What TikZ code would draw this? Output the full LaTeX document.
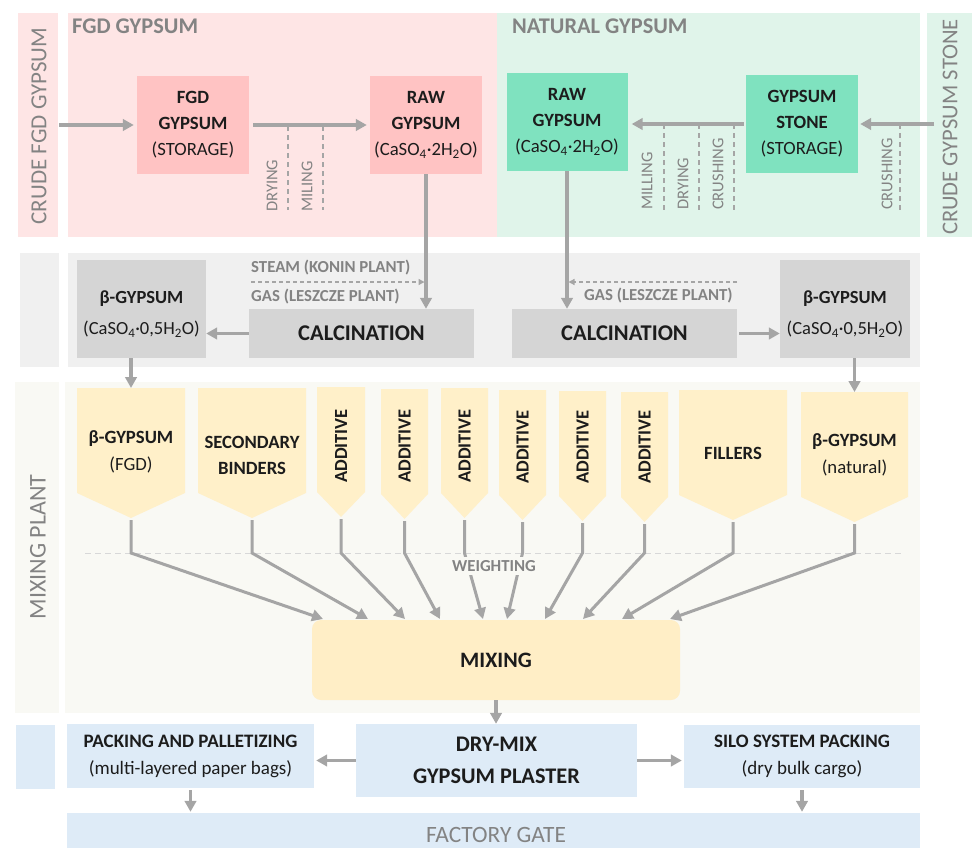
\documentclass[tikz,border=0pt]{standalone}
\usepackage{fontspec}
\setmainfont{Carlito}
\usetikzlibrary{arrows.meta}
\definecolor{pinkbg}{HTML}{FEE5E5}
\definecolor{pinkbox}{HTML}{FFC3C3}
\definecolor{greenbg}{HTML}{E0F4EA}
\definecolor{greenbox}{HTML}{7FE2BF}
\definecolor{graybg}{HTML}{F0F0F0}
\definecolor{graybox}{HTML}{D5D5D5}
\definecolor{mixbg}{HTML}{F9F9F4}
\definecolor{hopcol}{HTML}{FFF0C9}
\definecolor{mixcol}{HTML}{FFEEC6}
\definecolor{bluebox}{HTML}{DEEBF7}
\definecolor{linegray}{HTML}{A5A5A5}
\definecolor{labgray}{HTML}{838383}
\definecolor{darktxt}{HTML}{1C1C1C}
\definecolor{dashgray}{HTML}{D8D8D8}
\newcommand\fs[2]{\fontsize{#1}{#2}\selectfont}
\newcommand\hopper[4]{%
  \fill[hopcol] (#2,#4) -- (#3,#4) -- (#3,#4+105) -- ({(#2+#3)/2},#4+130) -- (#2,#4+105) -- cycle;
  \coordinate (#1top) at ({(#2+#3)/2},#4);
  \coordinate (#1tip) at ({(#2+#3)/2},#4+132);
  \coordinate (#1kink) at ({(#2+#3)/2},553);
}
\begin{document}
\begin{tikzpicture}[x=1pt,y=-1pt,
  flow/.style={draw=linegray, line width=3.3pt, -{Triangle[length=11pt,width=11.5pt]}},
  thinflow/.style={draw=linegray, line width=1.3pt, dash pattern=on 4pt off 3pt, -{Triangle[length=6pt,width=6pt]}},
  opdash/.style={draw=linegray, line width=1.2pt, dash pattern=on 5pt off 4pt},
  procbox/.style={inner sep=0pt, align=center, text=darktxt, font=\fs{18.7}{26}},
  seclabel/.style={rotate=90, text=labgray, font=\fs{23}{25}, inner sep=0pt},
  sectitle/.style={anchor=west, text=labgray, font=\bfseries\fs{22.4}{24}, inner sep=0pt},
  oplabel/.style={rotate=90, anchor=west, text=labgray, font=\fs{16.5}{18}, inner sep=0pt},
  gaslabel/.style={anchor=west, text=labgray, font=\bfseries\fs{16.8}{18}, inner sep=0pt},
  hoptext/.style={align=center, text=darktxt, inner sep=0pt, font=\fs{18.7}{27}},
  addtext/.style={rotate=90, text=darktxt, inner sep=0pt, font=\bfseries\fs{18.5}{20}},
]
\useasboundingbox (0,0) rectangle (973,848);

% ---------- backgrounds ----------
\fill[pinkbg] (18,13) rectangle (58,237);
\fill[pinkbg] (68,13) rectangle (497,237);
\fill[greenbg] (497,13) rectangle (920,237);
\fill[greenbg] (927,13) rectangle (972,237);
\fill[graybg] (20,253) rectangle (59,367);
\fill[graybg] (68,253) rectangle (920,367);
\fill[mixbg] (15,382) rectangle (59,713);
\fill[mixbg] (65,382) rectangle (920,713);
\fill[bluebox] (16,725) rectangle (55,789);

% ---------- section labels ----------
\node[seclabel] (crudefgd) at (39,126) {CRUDE FGD GYPSUM};
\node[seclabel, font=\fs{22.6}{25}] (crudestone) at (950,127) {CRUDE GYPSUM STONE};
\node[seclabel, font=\fs{24}{26}] (mixplant) at (38,547) {MIXING PLANT};
\node[sectitle] (fgdtitle) at (72,26) {FGD GYPSUM};
\node[sectitle] (nattitle) at (512,26) {NATURAL GYPSUM};

% ---------- top boxes ----------
\node[procbox, fill=pinkbox, minimum width=112pt, minimum height=98pt] (fgd) at (193,125)
  {\textbf{FGD}\\\textbf{GYPSUM}\\(STORAGE)};
\node[procbox, fill=pinkbox, minimum width=112pt, minimum height=98pt] (rawL) at (426,125)
  {\textbf{RAW}\\\textbf{GYPSUM}\\(CaSO\textsubscript{4}·2H\textsubscript{2}O)};
\node[procbox, fill=greenbox, minimum width=121pt, minimum height=98pt] (rawR) at (567,122)
  {\textbf{RAW}\\\textbf{GYPSUM}\\(CaSO\textsubscript{4}·2H\textsubscript{2}O)};
\node[procbox, fill=greenbox, minimum width=112pt, minimum height=98pt] (stone) at (802,124)
  {\textbf{GYPSUM}\\\textbf{STONE}\\(STORAGE)};

\coordinate (fgdin) at (59,125);
\coordinate (stonein) at (934,124);
\draw[flow, shorten >=3pt] (fgdin) -- (fgd.west);
\draw[flow, shorten <=4pt, shorten >=3pt] (fgd.east) -- (rawL.west);
\draw[flow, shorten <=2pt, shorten >=4pt] (stone.west) -- (stone.west -| rawR.east);
\draw[flow, shorten >=2pt] (stonein) -- (stone.east);

% operation markers
\draw[opdash] (288,126) -- (288,210);
\draw[opdash] (323,126) -- (323,210);
\draw[opdash] (664,124) -- (664,210);
\draw[opdash] (699,124) -- (699,210);
\draw[opdash] (734,124) -- (734,210);
\draw[opdash] (900,124) -- (900,210);
\node[oplabel] (dry1) at (272,212) {DRYING};
\node[oplabel] (mil1) at (307,212) {MILING};
\node[oplabel] (mil2) at (647,210) {MILLING};
\node[oplabel] (dry2) at (683,210) {DRYING};
\node[oplabel] (cru1) at (718,210) {CRUSHING};
\node[oplabel] (cru2) at (887,210) {CRUSHING};

% ---------- calcination row ----------
\node[procbox, fill=graybox, minimum width=129pt, minimum height=98pt] (betaL) at (141.5,309) {};
\node[procbox, font=\fs{18.5}{31}] (betaLtxt) at (141.5,314) {\textbf{β-GYPSUM}\\(CaSO\textsubscript{4}·0,5H\textsubscript{2}O)};
\node[procbox, fill=graybox, minimum width=130pt, minimum height=98pt] (betaR) at (845,309) {};
\node[procbox, font=\fs{18.5}{31}] (betaRtxt) at (845,314) {\textbf{β-GYPSUM}\\(CaSO\textsubscript{4}·0,5H\textsubscript{2}O)};
\node[procbox, fill=graybox, minimum width=225pt, minimum height=49pt, font=\bfseries\fs{22.5}{26}] (calcL) at (361.5,333.5) {CALCINATION};
\node[procbox, fill=graybox, minimum width=225pt, minimum height=49pt, font=\bfseries\fs{22.5}{26}] (calcR) at (624.5,333.5) {CALCINATION};

\draw[flow] (rawL.south) -- (rawL.south |- calcL.north);
\draw[flow] (rawR.south) -- (rawR.south |- calcR.north);
\draw[flow] (calcL.west) -- (calcL.west -| betaL.east);
\draw[flow, shorten <=2pt] (calcR.east) -- (calcR.east -| betaR.west);

\coordinate (steamA) at (251,282);
\coordinate (gasA) at (737,282);
\draw[thinflow, shorten >=1.5pt] (steamA) -- (steamA -| rawL.south);
\draw[thinflow, shorten >=1.5pt] (gasA) -- (gasA -| rawR.south);
\node[gaslabel] (steamL) at (251,268) {STEAM (KONIN PLANT)};
\node[gaslabel] (gasL) at (251,297) {GAS (LESZCZE PLANT)};
\node[gaslabel] (gasR) at (584,296) {GAS (LESZCZE PLANT)};

% ---------- mixing plant ----------
\hopper{h1}{77}{185}{388}
\hopper{h2}{198}{306}{388}
\hopper{h3}{317}{365}{387}
\hopper{h4}{381}{428}{389}
\hopper{h5}{441}{488}{388}
\hopper{h6}{499}{546}{390}
\hopper{h7}{559}{606}{391}
\hopper{h8}{621}{668}{392}
\hopper{h9}{679}{787}{390}
\hopper{h10}{801}{908}{392}

\node[hoptext] (t1) at (131,452) {\textbf{β-GYPSUM}\\(FGD)};
\node[hoptext, font=\bfseries\fs{18.7}{26}] (t2) at (252,455) {SECONDARY\\BINDERS};
\node[addtext] (t3) at (341,446) {ADDITIVE};
\node[addtext] (t4) at (404.5,446) {ADDITIVE};
\node[addtext] (t5) at (464.5,446) {ADDITIVE};
\node[addtext] (t6) at (522.5,447) {ADDITIVE};
\node[addtext] (t7) at (582.5,447) {ADDITIVE};
\node[addtext] (t8) at (644.5,447) {ADDITIVE};
\node[hoptext, font=\bfseries\fs{18.7}{26}] (t9) at (733,453) {FILLERS};
\node[hoptext] (t10) at (854.5,455) {\textbf{β-GYPSUM}\\(natural)};

\draw[flow] (h1top |- betaL.south) -- (h1top);
\draw[flow] (h10top |- betaR.south) -- (h10top);

\draw[draw=dashgray, line width=1pt, dash pattern=on 6pt off 4pt] (85,553) -- (902,553);

\coordinate (e1) at (323,619);
\coordinate (e2) at (368,619);
\coordinate (e3) at (405,619);
\coordinate (e4) at (440,619);
\coordinate (e5) at (483,619);
\coordinate (e6) at (507,619);
\coordinate (e7) at (545,619);
\coordinate (e8) at (583,619);
\coordinate (e9) at (622,619);
\coordinate (e10) at (670,619);
\foreach \i in {1,...,10} {
  \draw[flow, line width=3pt] (h\i tip) -- (h\i kink) -- (e\i);
}
\node[fill=mixbg, text=labgray, font=\bfseries\fs{16.8}{18}, inner sep=3pt] (weigh) at (494,566) {WEIGHTING};

\node[procbox, fill=mixcol, rounded corners=9pt, minimum width=368pt, minimum height=80pt, font=\bfseries\fs{22}{24}] (mix) at (496,660) {MIXING};

% ---------- bottom ----------
\node[procbox, fill=bluebox, minimum width=247pt, minimum height=64pt, font=\fs{19}{27}] (pack) at (190.5,756)
  {\textbf{PACKING AND PALLETIZING}\\(multi-layered paper bags)};
\node[procbox, fill=bluebox, minimum width=281pt, minimum height=73pt, font=\bfseries\fs{22.3}{32}] (dry) at (496.5,760.5)
  {DRY-MIX\\GYPSUM PLASTER};
\node[procbox, fill=bluebox, minimum width=236pt, minimum height=63pt, font=\fs{19}{27}] (silo) at (802,756.5)
  {\textbf{SILO SYSTEM PACKING}\\(dry bulk cargo)};
\node[procbox, fill=bluebox, minimum width=853pt, minimum height=35pt] (gate) at (493.5,830.5) {};
\node[text=labgray, font=\fs{23.4}{25}, inner sep=0pt] (gatetxt) at (496,835) {FACTORY GATE};

\draw[flow] (mix.south) -- (mix.south |- dry.north);
\draw[flow, shorten >=2pt] (dry.west) -- (dry.west -| pack.east);
\draw[flow, shorten >=2pt] (dry.east) -- (dry.east -| silo.west);
\draw[flow, shorten <=2pt, shorten >=1pt] (pack.south) -- (pack.south |- gate.north);
\draw[flow, shorten <=2pt, shorten >=1pt] (silo.south) -- (silo.south |- gate.north);
\end{tikzpicture}
\end{document}
